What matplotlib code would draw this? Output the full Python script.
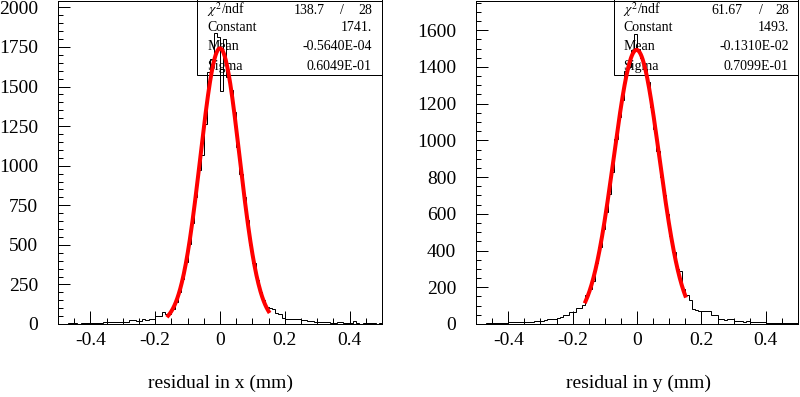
import numpy as np
import matplotlib.pyplot as plt
from matplotlib.ticker import MultipleLocator, FixedLocator
from matplotlib.patches import Rectangle

plt.rcParams["font.family"] = ["Liberation Serif", "DejaVu Serif"]
plt.rcParams["mathtext.fontset"] = "stix"

# 100 bins of 0.01 mm between -0.5 and 0.5
edges = np.linspace(-0.5, 0.5, 101)

counts_x = [
    3, 2, 3, 5, 4, 4, 3, 5, 6, 4,
    6, 8, 7, 8, 10, 11, 13, 13, 14, 13,
    14, 13, 25, 24, 17, 18, 29, 28, 31, 32,
    50, 52, 74, 61, 65, 95, 140, 200, 285, 390,
    505, 640, 805, 975, 1070, 1265, 1590, 1675, 1838, 1815,
    1470, 1800, 1560, 1480, 1340, 1120, 945, 800, 655, 500,
    385, 280, 205, 150, 110, 100, 95, 68, 66, 35,
    30, 32, 29, 31, 30, 23, 24, 21, 20, 13,
    14, 12, 15, 14, 8, 9, 12, 11, 4, 5,
    4, 17, 4, 3, 5, 4, 6, 5, 3, 4,
]

counts_y = [
    0, 0, 0, 3, 7, 6, 7, 8, 7, 6,
    11, 12, 11, 11, 12, 11, 13, 12, 14, 16,
    18, 20, 25, 27, 26, 34, 36, 49, 50, 63,
    65, 85, 88, 103, 160, 190, 235, 330, 420, 520,
    610, 710, 830, 1010, 1130, 1220, 1380, 1400, 1490, 1580,
    1500, 1450, 1390, 1320, 1180, 1060, 940, 800, 700, 600,
    480, 390, 300, 290, 190, 157, 130, 80, 78, 72,
    70, 73, 72, 49, 48, 25, 26, 24, 25, 25,
    18, 19, 17, 13, 14, 12, 11, 12, 10, 11,
    5, 6, 5, 4, 5, 5, 4, 5, 4, 3,
]

# gaussian fit results as printed in the stat boxes
fit_x = (1741.0, -0.5640e-04, 0.6049e-01)
fit_y = (1493.0, -0.1310e-02, 0.7099e-01)
fit_range = (-0.16, 0.15)

stats_x = ["138.7", "28", "1741.", "-0.5640E-04", "0.6049E-01"]
stats_y = ["61.67", "28", "1493.", "-0.1310E-02", "0.7099E-01"]

fig = plt.figure(figsize=(8.0, 3.97), dpi=100)

px = 1 / 100 * 72  # one pixel in points


def panel(rect, counts, fit, stats, ymax, ymajor, xlabel, xlab_pos, chi_pos):
    ax = fig.add_axes(rect)
    ax.stairs(counts, edges, color="black", lw=1 * px, zorder=3)

    c, m, s = fit
    xf = np.linspace(fit_range[0], fit_range[1], 200)
    ax.plot(xf, c * np.exp(-0.5 * ((xf - m) / s) ** 2), color="#ff0000",
            lw=4 * px, zorder=4)

    ax.set_xlim(-0.5, 0.5)
    ax.set_ylim(0, ymax)
    ax.xaxis.set_major_locator(FixedLocator([-0.4, -0.2, 0, 0.2, 0.4]))
    ax.set_xticklabels(["-0.4", "-0.2", "0", "0.2", "0.4"])
    ax.xaxis.set_minor_locator(MultipleLocator(0.05))
    ax.yaxis.set_major_locator(MultipleLocator(ymajor))
    ax.yaxis.set_minor_locator(MultipleLocator(50))
    ax.yaxis.set_major_formatter(lambda v, p: f"{v:.0f}")
    ax.tick_params(which="both", direction="in", width=1 * px,
                   top=False, right=False, labelsize=14)
    ax.tick_params(axis="x", which="major", length=13 * px, pad=8 * px)
    ax.tick_params(axis="x", which="minor", length=6 * px)
    ax.tick_params(axis="y", which="major", length=12 * px, pad=20 * px)
    ax.tick_params(axis="y", which="minor", length=5 * px)
    for sp in ax.spines.values():
        sp.set_linewidth(1 * px)

    # stat box
    bx = chi_pos[0]
    ax.add_patch(Rectangle((bx, 0.772), 1 - bx, 0.3, transform=ax.transAxes,
                           facecolor="white", edgecolor="black", lw=1 * px,
                           zorder=2, clip_on=False))
    lx = chi_pos[1]
    vx = chi_pos[4]
    rows = [0.972, 0.917, 0.858, 0.796]
    names = [r"$\chi^2$/ndf", "Constant", "Mean", "Sigma"]
    for yy, nm in zip(rows, names):
        ax.text(lx, yy, nm, transform=ax.transAxes, fontsize=10,
                va="center", ha="left", zorder=2.5)
    ax.text(chi_pos[2], rows[0], stats[0], transform=ax.transAxes,
            fontsize=10, va="center", ha="right", zorder=2.5)
    ax.text(chi_pos[3], rows[0], "/", transform=ax.transAxes,
            fontsize=10, va="center", ha="center", zorder=2.5)
    ax.text(vx, rows[0], stats[1], transform=ax.transAxes,
            fontsize=10, va="center", ha="right", zorder=2.5)
    for yy, val in zip(rows[1:], stats[2:]):
        ax.text(vx, yy, val, transform=ax.transAxes, fontsize=10,
                va="center", ha="right", zorder=2.5)

    fig.text(xlab_pos, 1 - 383 / 397, xlabel, fontsize=14,
             ha="center", va="center")
    return ax


panel([58 / 800, 73 / 397, 324 / 800, 323 / 397], counts_x, fit_x, stats_x,
      2040, 250, "residual in x (mm)", 221 / 800,
      (0.430, 0.460, 0.824, 0.877, 0.969))
panel([476 / 800, 73 / 397, 322 / 800, 323 / 397], counts_y, fit_y, stats_y,
      1759, 200, "residual in y (mm)", 638 / 800,
      (0.4295, 0.457, 0.826, 0.884, 0.972))

fig.savefig("out.png", dpi=100)
